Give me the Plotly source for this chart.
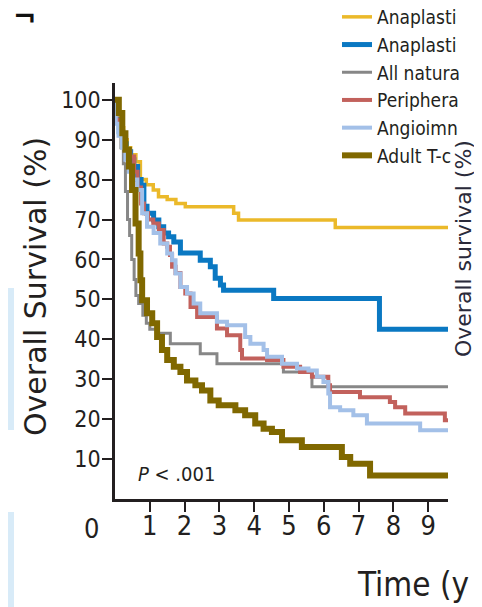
import plotly.graph_objects as go

# ---------------- data ----------------
names = ["Anaplasti", "Anaplasti", "All natura", "Periphera", "Angioimn", "Adult T-c"]
colors = ["#EBB92A", "#0A78C2", "#878787", "#C2615C", "#A3C0E8", "#806800"]
widths = [3.5, 5, 3, 4, 4, 6]

alk_pos_t = [0, 0.08, 0.15, 0.25, 0.35, 0.45, 0.6, 0.73, 0.9, 1.1, 1.25, 1.5, 1.75, 2.02, 3.41, 3.55, 6.33, 9.6]
alk_pos_s = [100, 96, 93, 90, 88, 86.2, 84.5, 80, 78.7, 77.4, 75.7, 75, 74, 73.2, 71.6, 69.9, 68.0, 68.0]

alk_neg_t = [0, 0.02, 0.12, 0.22, 0.32, 0.45, 0.54, 0.65, 0.75, 0.83, 0.92, 1.11, 1.26, 1.4, 1.54, 1.69, 1.88,
             2.45, 2.74, 2.88, 3.03, 3.12, 4.56, 7.6, 9.6]
alk_neg_s = [100, 95, 92, 89, 87, 85, 83.3, 80, 78.6, 73.3, 71.6, 69.9, 68.2, 66.6, 65.7, 64.4, 61.6,
             59.8, 58.2, 55.3, 53.6, 52.3, 50.2, 42.5, 42.5]

nk_t = [0, 0.05, 0.1, 0.17, 0.24, 0.3, 0.36, 0.42, 0.48, 0.55, 0.6, 0.68, 0.8, 0.9, 1.0, 1.21, 1.59, 2.45,
        2.93, 4.84, 5.66, 9.6]
nk_s = [100, 95, 92, 88, 84, 77, 70, 66, 60, 55, 51, 49, 46, 44, 42.5, 41.5, 38.9, 36.4,
        33.9, 31.8, 28.1, 28.1]

ptcl_t = [0, 0.02, 0.12, 0.2, 0.3, 0.44, 0.55, 0.65, 0.75, 0.83, 0.95, 1.1, 1.26, 1.4, 1.5, 1.58, 1.64, 1.74,
          1.88, 2.02, 2.17, 2.36, 2.93, 3.22, 3.6, 3.65, 4.37, 4.84, 5.32, 5.66, 6.13, 6.18, 7.04, 7.9, 8.05,
          8.34, 9.48, 9.6]
ptcl_s = [100, 95, 92, 89, 87, 85.8, 82, 78, 74, 71.6, 70, 69, 67.4, 64, 63.2, 61.1, 58.2, 56.6,
          53.1, 51.5, 48.1, 45.6, 42.7, 41, 37.3, 35.2, 34.8, 33.1, 31.8, 30.6, 28.5, 26.8, 25.5, 24.3, 23,
          21.4, 19.7, 19.7]

aitl_t = [0, 0.02, 0.1, 0.2, 0.3, 0.4, 0.5, 0.64, 0.78, 0.92, 1.11, 1.3, 1.5, 1.64, 1.74, 1.88, 2.07, 2.26,
          2.45, 2.93, 3.22, 3.74, 3.89, 4.27, 4.37, 4.8, 5.23, 5.56, 5.8, 5.99, 6.13, 6.18, 6.47, 6.85, 7.24,
          8.77, 9.6]
aitl_s = [100, 94, 91, 88, 85, 82, 80, 77.4, 71.6, 68.2, 66.6, 64, 61.5, 59.8, 56.5, 53.1, 51.5, 49,
          46.5, 44.4, 43.5, 40.6, 38.9, 37.3, 35.6, 33.9, 32.7, 32.2, 30.6, 29.3, 26.4, 23, 22.2, 21, 18.9,
          17.2, 17.2]

atll_t = [0, 0.11, 0.21, 0.3, 0.4, 0.49, 0.59, 0.68, 0.73, 0.78, 0.92, 1.07, 1.21, 1.35, 1.5, 1.69, 1.88,
          2.07, 2.31, 2.5, 2.74, 2.98, 3.46, 3.74, 4.03, 4.27, 4.51, 4.8, 5.37, 6.52, 6.76, 7.33, 9.6]
atll_s = [100, 96.7, 91.6, 87.5, 83.3, 77.4, 69, 61.5, 54.8, 49.8, 46.5, 44, 40.6, 37.3, 34.8, 33.1, 31.8,
          29.7, 28.5, 27.2, 24.7, 23.5, 22.2, 21, 18.9, 17.6, 16.8, 14.7, 13, 10.5, 8.8, 5.9, 5.9]

x_ticks = [1, 2, 3, 4, 5, 6, 7, 8, 9]
y_ticks = [10, 20, 30, 40, 50, 60, 70, 80, 90, 100]

series = [(alk_pos_t, alk_pos_s), (alk_neg_t, alk_neg_s), (nk_t, nk_s),
          (ptcl_t, ptcl_s), (aitl_t, aitl_s), (atll_t, atll_s)]

# ---------------- figure ----------------
W, H = 482, 607
OFF = 8  # page offset of the figure inside the browser body
L, T = 115 - OFF, 83 - OFF
R = W - (448 - OFF)
B = H - (499 - OFF)
pw, ph = W - L - R, H - T - B

def fx(x):  # page pixel -> paper x
    return (x - OFF - L) / pw

def fy(y):  # page pixel -> paper y
    return (H - B - (y - OFF)) / ph

NARROW = "Liberation Sans Narrow, DejaVu Sans Condensed, Roboto, sans-serif"
WIDE = "DejaVu Sans, Verdana, sans-serif"
INK = "#231F20"

fig = go.Figure()
for (t, s), n, c, w in zip(series, names, colors, widths):
    fig.add_trace(go.Scatter(x=t, y=s, mode="lines", name=n,
                             line=dict(color=c, width=w, shape="hv")))

def ann(text, x, y, size, family=NARROW, angle=0, color=INK, xanchor="center"):
    return dict(text=text, x=fx(x), y=fy(y), xref="paper", yref="paper",
                xanchor=xanchor, yanchor="middle", textangle=angle, showarrow=False,
                font=dict(family=family, size=size, color=color))

fig.update_layout(
    width=W, height=H,
    margin=dict(l=L, r=R, t=T, b=B, pad=0, autoexpand=False),
    paper_bgcolor="white", plot_bgcolor="white",
    showlegend=True,
    legend=dict(x=fx(337), y=fy(-2), xanchor="left", yanchor="top",
                font=dict(family=NARROW, size=19, color=INK),
                bgcolor="rgba(0,0,0,0)", borderwidth=0, itemwidth=30,
                tracegroupgap=0),
    xaxis=dict(range=[0, 9.57], tickvals=x_ticks, ticks="outside", ticklen=10, tickwidth=1.5,
               tickcolor=INK, showline=True, linecolor=INK, linewidth=3, showgrid=False,
               zeroline=False, automargin=False, ticklabelstandoff=-9,
               tickfont=dict(family=NARROW, size=27, color=INK)),
    yaxis=dict(range=[0, 104.2], tickvals=y_ticks, ticks="outside", ticklen=10, tickwidth=1.5,
               tickcolor=INK, showline=True, linecolor=INK, linewidth=2.5, showgrid=False,
               zeroline=False, automargin=False, ticklabelstandoff=-3,
               tickfont=dict(family=NARROW, size=23, color=INK)),
    shapes=[
        dict(type="rect", xref="paper", yref="paper", x0=fx(0), x1=fx(14), y0=fy(430), y1=fy(288),
             fillcolor="#D8EBF8", line=dict(width=0), layer="below"),
        dict(type="rect", xref="paper", yref="paper", x0=fx(0), x1=fx(14), y0=fy(615), y1=fy(512),
             fillcolor="#D8EBF8", line=dict(width=0), layer="below"),
    ],
    annotations=[
        ann("Overall Survival (%)", 35, 287, 30, family=WIDE, angle=-90),
        ann("Overall survival (%)", 463, 249, 22, family=WIDE, angle=-90, color="#2a2a3a"),
        ann("Time (y", 355, 584, 33, xanchor="left"),
        ann("0", 91, 528, 27),
        ann("<i>P</i> < .001", 176, 474, 20),
        ann("<b>¬</b>", 24, 16, 28, family="DejaVu Sans", color="#111"),
    ],
)

fig.write_html("out.html")
